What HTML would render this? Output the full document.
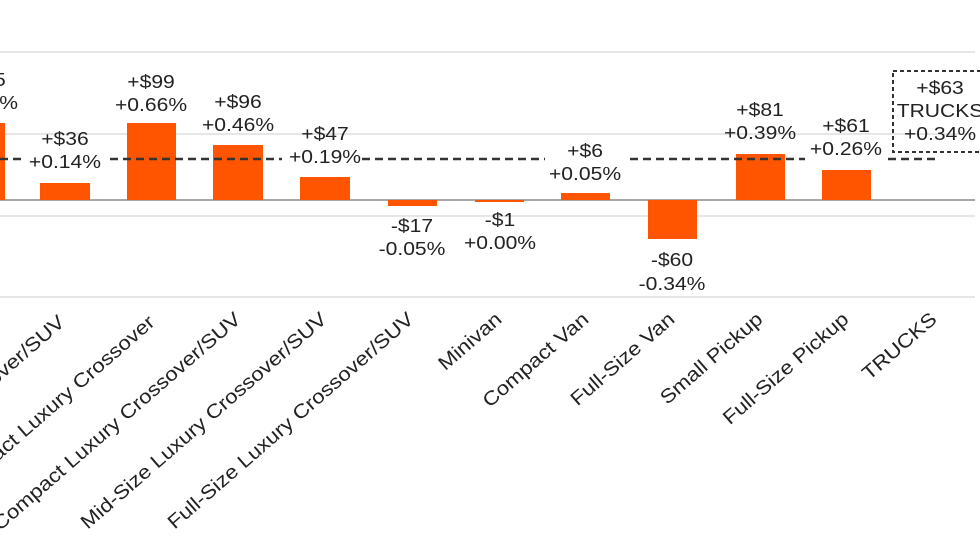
<!DOCTYPE html>
<html><head><style>
html,body{margin:0;padding:0;background:#fff;}
svg{display:block;}
text{font-family:"Liberation Sans",sans-serif;fill:#222;}
</style></head><body>
<svg width="980" height="552" viewBox="0 0 980 552">
<g stroke="#e6e6e6" stroke-width="2">
<line x1="0" y1="52" x2="975" y2="52"/>
<line x1="0" y1="134" x2="975" y2="134"/>
<line x1="0" y1="216" x2="975" y2="216"/>
<line x1="0" y1="297" x2="975" y2="297"/>
</g>
<line x1="0" y1="200" x2="975" y2="200" stroke="#8a8a8a" stroke-width="1.5"/>
<g fill="#ff5500">
<rect x="-45" y="123" width="50" height="77"/>
<rect x="40" y="183" width="50" height="17"/>
<rect x="127" y="123" width="49" height="77"/>
<rect x="213" y="145" width="50" height="55"/>
<rect x="300" y="177" width="50" height="23"/>
<rect x="388" y="200" width="49" height="6"/>
<rect x="475" y="200" width="49" height="2"/>
<rect x="561" y="193" width="49" height="7"/>
<rect x="648" y="200" width="49" height="39"/>
<rect x="736" y="154" width="49" height="46"/>
<rect x="822" y="170" width="49" height="30"/>
</g>
<g stroke="#333" stroke-width="2.5" stroke-dasharray="8,5">
<line x1="0" y1="159" x2="25" y2="159"/>
<line x1="110" y1="159" x2="282" y2="159"/>
<line x1="362" y1="159" x2="545" y2="159"/>
<line x1="630" y1="159" x2="805" y2="159"/>
<line x1="888" y1="159" x2="935" y2="159"/>
</g>
<rect x="893" y="71" width="90" height="81" fill="none" stroke="#333" stroke-width="2" stroke-dasharray="4,3"/>
<g font-size="18.5" text-anchor="middle" transform="scale(1.14,1)">
<text x="-15.8" y="86">+$65</text><text x="-15.8" y="109">+0.45%</text>
<text x="57" y="145">+$36</text><text x="57" y="168">+0.14%</text>
<text x="132.5" y="88">+$99</text><text x="132.5" y="111">+0.66%</text>
<text x="208.8" y="108">+$96</text><text x="208.8" y="131">+0.46%</text>
<text x="285.1" y="140">+$47</text><text x="285.1" y="163">+0.19%</text>
<text x="361.4" y="232">-$17</text><text x="361.4" y="255">-0.05%</text>
<text x="438.6" y="226">-$1</text><text x="438.6" y="249">+0.00%</text>
<text x="513.2" y="157">+$6</text><text x="513.2" y="180">+0.05%</text>
<text x="589.5" y="266">-$60</text><text x="589.5" y="290">-0.34%</text>
<text x="666.7" y="116">+$81</text><text x="666.7" y="139">+0.39%</text>
<text x="742.1" y="132">+$61</text><text x="742.1" y="155">+0.26%</text>
<text x="824.6" y="94">+$63</text><text x="824.6" y="117">TRUCKS</text><text x="824.6" y="140">+0.34%</text>
</g>
<g font-size="19.5" text-anchor="end">
<text transform="translate(66,324) rotate(-41) scale(1.14,1)">Compact Crossover/SUV</text>
<text transform="translate(156,324) rotate(-41) scale(1.14,1)">Subcompact Luxury Crossover</text>
<text transform="translate(242,321) rotate(-41) scale(1.14,1)">Compact Luxury Crossover/SUV</text>
<text transform="translate(328,321) rotate(-41) scale(1.14,1)">Mid-Size Luxury Crossover/SUV</text>
<text transform="translate(415,321) rotate(-41) scale(1.14,1)">Full-Size Luxury Crossover/SUV</text>
<text transform="translate(503,321) rotate(-41) scale(1.14,1)">Minivan</text>
<text transform="translate(590,321) rotate(-41) scale(1.14,1)">Compact Van</text>
<text transform="translate(676,321) rotate(-41) scale(1.14,1)">Full-Size Van</text>
<text transform="translate(764,321) rotate(-41) scale(1.14,1)">Small Pickup</text>
<text transform="translate(850,321) rotate(-41) scale(1.14,1)">Full-Size Pickup</text>
<text transform="translate(938,321) rotate(-41) scale(1.14,1)">TRUCKS</text>
</g>
</svg>
</body></html>
